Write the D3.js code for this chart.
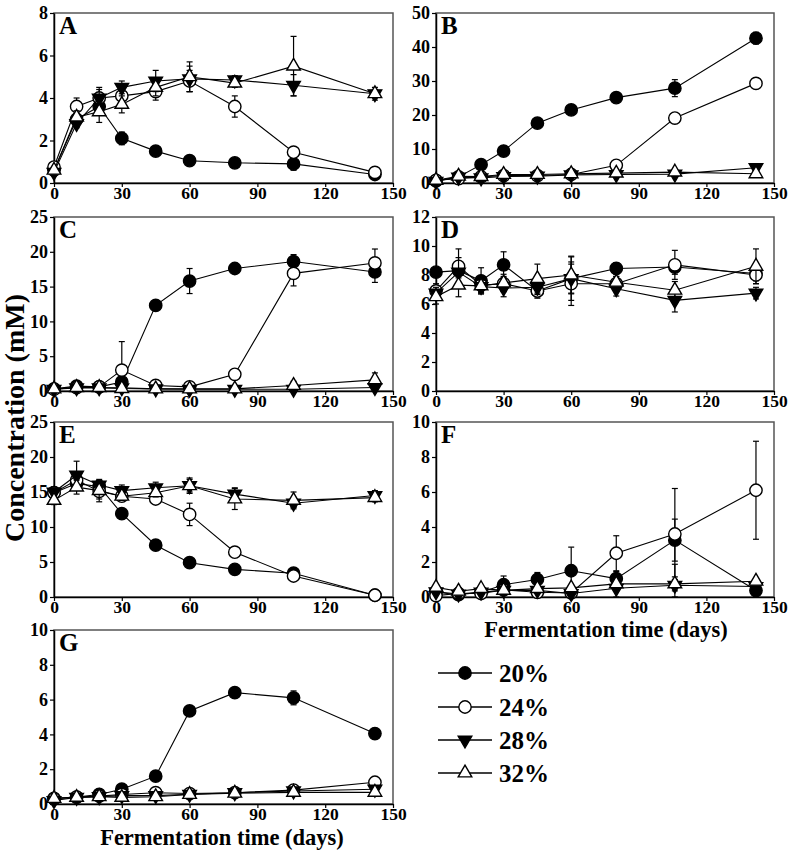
<!DOCTYPE html>
<html><head><meta charset="utf-8">
<script src="https://cdn.jsdelivr.net/npm/d3@7"></script>
<style>body{margin:0;background:#fff}</style>
</head><body>
<svg id="c" width="797" height="852" xmlns="http://www.w3.org/2000/svg"></svg>
<script>
// ---------- data ----------
const days = [0, 10, 20, 30, 45, 60, 80, 106, 142];
const seriesNames = ["20%", "24%", "28%", "32%"];
const xTicks = [0, 30, 60, 90, 120, 150];
const panelLetters = ["A", "B", "C", "D", "E", "F", "G"];
const yTicksA = [0, 2, 4, 6, 8];
const yTicksB = [0, 10, 20, 30, 40, 50];
const yTicksC = [0, 5, 10, 15, 20, 25];
const yTicksD = [0, 2, 4, 6, 8, 10, 12];
const yTicksE = [0, 5, 10, 15, 20, 25];
const yTicksF = [0, 2, 4, 6, 8, 10];
const yTicksG = [0, 2, 4, 6, 8, 10];

const A_20 = [0.6, 3.0, 3.6, 2.1, 1.5, 1.05, 0.95, 0.9, 0.4];
const A_24 = [0.75, 3.6, 4.0, 4.1, 4.3, 4.8, 3.6, 1.45, 0.5];
const A_28 = [0.5, 2.8, 4.0, 4.5, 4.8, 4.9, 4.85, 4.6, 4.2];
const A_32 = [0.6, 3.1, 3.35, 3.7, 4.5, 5.0, 4.7, 5.5, 4.2];
const A_20_err = [0.1, 0.2, 0.3, 0.3, 0.2, 0.2, 0.1, 0.3, 0.1];
const A_24_err = [0.1, 0.4, 0.4, 0.3, 0.4, 0.5, 0.5, 0.1, 0.1];
const A_28_err = [0.1, 0.2, 0.5, 0.3, 0.5, 0.6, 0.2, 0.5, 0.2];
const A_32_err = [0.1, 0.3, 0.5, 0.4, 0.4, 0.7, 0.2, 1.4, 0.3];

const B_20 = [0.6, 1.8, 5.4, 9.4, 17.6, 21.5, 25.1, 27.9, 42.6];
const B_24 = [0.8, 1.3, 1.8, 2.2, 2.2, 2.5, 5.2, 19.1, 29.3];
const B_28 = [0.5, 1.7, 1.5, 1.9, 2.0, 2.4, 2.5, 2.6, 4.5];
const B_32 = [0.8, 2.0, 1.9, 2.5, 2.5, 2.7, 2.9, 3.2, 2.7];
const B_20_err = [0, 0, 0.3, 0.3, 0.3, 0.3, 0.3, 2.5, 1.7];
const B_24_err = [0, 0, 0, 0, 0, 0, 0.3, 0.3, 0.3];
const B_28_err = [0, 0, 0, 0, 0, 0, 0, 0, 0.3];
const B_32_err = [0, 0, 0, 0, 0, 0, 0, 0, 0.3];

const C_20 = [0.3, 0.7, 0.6, 1.3, 12.3, 15.8, 17.6, 18.6, 17.1];
const C_24 = [0.25, 0.5, 0.6, 3.0, 0.8, 0.6, 2.4, 16.9, 18.4];
const C_28 = [0.25, 0.45, 0.45, 0.45, 0.3, 0.25, 0.25, 0.25, 0.5];
const C_32 = [0.3, 0.5, 0.5, 0.35, 0.3, 0.3, 0.3, 0.8, 1.6];
const C_20_err = [0, 0, 0, 0.5, 0.3, 1.8, 0.7, 1.0, 1.5];
const C_24_err = [0, 0, 0, 4.1, 0, 0, 0, 1.8, 2.0];
const C_28_err = [0, 0, 0, 0, 0, 0, 0, 0, 0.2];
const C_32_err = [0, 0, 0, 0, 0, 0, 0, 0.6, 1.0];

const D_20 = [8.2, 8.3, 7.6, 8.7, 6.9, 7.75, 8.45, 8.55, 8.1];
const D_24 = [6.9, 8.6, 7.3, 7.4, 6.9, 7.4, 7.4, 8.7, 8.0];
const D_28 = [6.75, 8.2, 7.2, 7.1, 7.15, 7.75, 7.05, 6.25, 6.75];
const D_32 = [6.5, 7.3, 7.25, 7.45, 7.75, 8.0, 7.5, 6.95, 8.6];
const D_20_err = [0.3, 0.5, 0.9, 0.9, 0.4, 1.0, 0.4, 0.5, 0.5];
const D_24_err = [0.5, 1.2, 0.5, 0.5, 0.5, 1.5, 0.5, 1.0, 0.6];
const D_28_err = [0.4, 1.0, 0.5, 0.6, 0.5, 1.5, 0.5, 0.8, 0.4];
const D_32_err = [0.5, 0.8, 0.4, 0.6, 1.0, 1.3, 0.4, 0.6, 1.2];

const E_20 = [14.9, 16.2, 15.8, 11.9, 7.4, 4.9, 3.95, 3.4, 0.25];
const E_24 = [14.9, 16.7, 15.1, 14.4, 14.0, 11.8, 6.4, 3.0, 0.25];
const E_28 = [15.0, 17.4, 16.0, 15.2, 15.6, 15.9, 14.7, 13.4, 14.5];
const E_32 = [13.8, 15.7, 15.2, 14.4, 14.9, 15.9, 14.0, 13.8, 14.2];
const E_20_err = [0.5, 0.6, 0.5, 0.3, 0.3, 0.3, 0.2, 0.3, 0.1];
const E_24_err = [0.5, 1.2, 1.5, 0.5, 0.7, 1.6, 0.4, 0.4, 0.1];
const E_28_err = [0.6, 2.0, 0.8, 0.8, 0.8, 0.9, 0.9, 0.6, 0.7];
const E_32_err = [0.6, 1.0, 1.2, 0.6, 0.6, 1.1, 1.5, 1.2, 0.6];

const F_20 = [0.27, 0.13, 0.27, 0.7, 1.0, 1.5, 1.05, 3.25, 0.37];
const F_24 = [0.08, 0.2, 0.2, 0.4, 0.27, 0.23, 2.5, 3.6, 6.1];
const F_28 = [0.3, 0.17, 0.28, 0.38, 0.38, 0.2, 0.5, 0.67, 0.6];
const F_32 = [0.55, 0.33, 0.48, 0.38, 0.48, 0.52, 0.75, 0.75, 0.9];
const F_20_err = [0.1, 0.1, 0.1, 0.5, 0.4, 1.35, 0.4, 1.2, 0.1];
const F_24_err = [0, 0.1, 0.1, 0.2, 0.1, 0.1, 1.0, 2.6, 2.8];
const F_28_err = [0.1, 0.1, 0.1, 0.2, 0.1, 0.1, 0.5, 1.2, 0.1];
const F_32_err = [0.1, 0.1, 0.1, 0.1, 0.1, 0.1, 0.2, 0.4, 0.1];

const G_20 = [0.33, 0.4, 0.55, 0.85, 1.6, 5.35, 6.4, 6.1, 4.05];
const G_24 = [0.3, 0.4, 0.45, 0.55, 0.65, 0.6, 0.65, 0.8, 1.25];
const G_28 = [0.2, 0.38, 0.42, 0.48, 0.48, 0.56, 0.65, 0.75, 0.85];
const G_32 = [0.32, 0.38, 0.42, 0.38, 0.42, 0.55, 0.62, 0.67, 0.67];
const G_20_err = [0.05, 0.05, 0.1, 0.15, 0.1, 0.3, 0.1, 0.4, 0.1];
const G_24_err = [0, 0, 0, 0, 0, 0, 0, 0, 0.1];
const G_28_err = [0, 0, 0, 0, 0, 0, 0, 0, 0];
const G_32_err = [0, 0, 0, 0, 0, 0, 0, 0, 0];

// ---------- build panel table ----------
const panelData = {
  A: {ticks: yTicksA, s: [A_20, A_24, A_28, A_32], e: [A_20_err, A_24_err, A_28_err, A_32_err]},
  B: {ticks: yTicksB, s: [B_20, B_24, B_28, B_32], e: [B_20_err, B_24_err, B_28_err, B_32_err]},
  C: {ticks: yTicksC, s: [C_20, C_24, C_28, C_32], e: [C_20_err, C_24_err, C_28_err, C_32_err]},
  D: {ticks: yTicksD, s: [D_20, D_24, D_28, D_32], e: [D_20_err, D_24_err, D_28_err, D_32_err]},
  E: {ticks: yTicksE, s: [E_20, E_24, E_28, E_32], e: [E_20_err, E_24_err, E_28_err, E_32_err]},
  F: {ticks: yTicksF, s: [F_20, F_24, F_28, F_32], e: [F_20_err, F_24_err, F_28_err, F_32_err]},
  G: {ticks: yTicksG, s: [G_20, G_24, G_28, G_32], e: [G_20_err, G_24_err, G_28_err, G_32_err]}
};

// ---------- layout ----------
const colX = [[54, 393], [436, 774]];
const rowY = [[13, 183], [217, 391], [422, 597], [630, 804]];
const FONT = "'Liberation Serif', 'Times New Roman', serif";

const svg = d3.select("#c");

// marker generators
const symCircle = d3.symbol().type(d3.symbolCircle).size(120);
const symTri = d3.symbol().type(d3.symbolTriangle).size(80);
const markerStyles = [
  {path: symCircle(), fill: "#000", rot: 0},
  {path: symCircle(), fill: "#fff", rot: 0},
  {path: symTri(), fill: "#000", rot: 180},
  {path: symTri(), fill: "#fff", rot: 0}
];

panelLetters.forEach((L, i) => {
  const col = i % 2, row = Math.floor(i / 2);
  const [x0, x1] = colX[col];
  const [y0, y1] = rowY[row];
  const pd = panelData[L];
  const ymax = pd.ticks[pd.ticks.length - 1];
  const x = d3.scaleLinear().domain([0, 150]).range([x0, x1]);
  const y = d3.scaleLinear().domain([0, ymax]).range([y1, y0]);
  const g = svg.append("g");

  // frame
  g.append("rect").attr("x", x0).attr("y", y0).attr("width", x1 - x0).attr("height", y1 - y0)
    .attr("fill", "none").attr("stroke", "#555").attr("stroke-width", 1.5);

  // axes
  const ax = g.append("g").attr("transform", `translate(0,${y1})`)
    .call(d3.axisBottom(x).tickValues(xTicks).tickSize(4).tickSizeOuter(0).tickPadding(0));
  const ay = g.append("g").attr("transform", `translate(${x0},0)`)
    .call(d3.axisLeft(y).tickValues(pd.ticks).tickSize(4).tickSizeOuter(0).tickPadding(2));
  [ax, ay].forEach(a => {
    a.select(".domain").attr("stroke", "#000").attr("stroke-width", 1.5);
    a.selectAll(".tick line").attr("stroke", "#000").attr("stroke-width", 1.2);
    a.selectAll("text").attr("font-family", FONT).attr("font-weight", "bold")
      .attr("font-size", 18).attr("fill", "#000");
  });
  ax.selectAll("text").attr("font-size", 17.5).attr("dy", "0.7em");

  // panel letter
  g.append("text").attr("x", x0 + 5).attr("y", y0 + 21).text(L)
    .attr("font-family", FONT).attr("font-weight", "bold").attr("font-size", 25);

  const line = d3.line().x((d, k) => x(days[k])).y(d => y(d));

  pd.s.forEach((vals, si) => {
    const errs = pd.e[si];
    const sg = g.append("g");
    sg.append("path").attr("d", line(vals)).attr("fill", "none")
      .attr("stroke", "#000").attr("stroke-width", 1.1);
    vals.forEach((v, k) => {
      const e = errs[k];
      if (e > 0.05 * ymax / 10) {
        const cx = x(days[k]);
        const ya = y(v + e), yb = y(Math.max(0, v - e));
        sg.append("line").attr("x1", cx).attr("x2", cx).attr("y1", ya).attr("y2", yb)
          .attr("stroke", "#000").attr("stroke-width", 1.2);
        [ya, yb].forEach(yy => sg.append("line").attr("x1", cx - 3).attr("x2", cx + 3)
          .attr("y1", yy).attr("y2", yy).attr("stroke", "#000").attr("stroke-width", 1.2));
      }
    });
    const ms = markerStyles[si];
    sg.selectAll("path.m").data(vals).enter().append("path").attr("class", "m")
      .attr("d", ms.path)
      .attr("transform", (d, k) => `translate(${x(days[k])},${y(d)}) rotate(${ms.rot})`)
      .attr("fill", ms.fill).attr("stroke", "#000").attr("stroke-width", 1.4);
  });
});

// axis titles
svg.append("text").attr("transform", "translate(24,418) rotate(-90)")
  .attr("text-anchor", "middle").attr("font-family", FONT).attr("font-weight", "bold")
  .attr("font-size", 28).text("Concentration (mM)");
svg.append("text").attr("x", 606).attr("y", 637).attr("text-anchor", "middle")
  .attr("font-family", FONT).attr("font-weight", "bold").attr("font-size", 22.5)
  .text("Fermentation time (days)");
svg.append("text").attr("x", 222).attr("y", 845).attr("text-anchor", "middle")
  .attr("font-family", FONT).attr("font-weight", "bold").attr("font-size", 22.5)
  .text("Fermentation time (days)");

// legend
const legY = [673, 707, 740, 773];
seriesNames.forEach((name, i) => {
  const yy = legY[i];
  const lg = svg.append("g");
  lg.append("line").attr("x1", 438).attr("x2", 492).attr("y1", yy).attr("y2", yy)
    .attr("stroke", "#000").attr("stroke-width", 1.5);
  const ms = markerStyles[i];
  lg.append("path").attr("d", ms.path)
    .attr("transform", `translate(465,${yy}) rotate(${ms.rot})`)
    .attr("fill", ms.fill).attr("stroke", "#000").attr("stroke-width", 1.4);
  lg.append("text").attr("x", 499).attr("y", yy + 9).text(name)
    .attr("font-family", FONT).attr("font-weight", "bold").attr("font-size", 25);
});
</script>
</body></html>
